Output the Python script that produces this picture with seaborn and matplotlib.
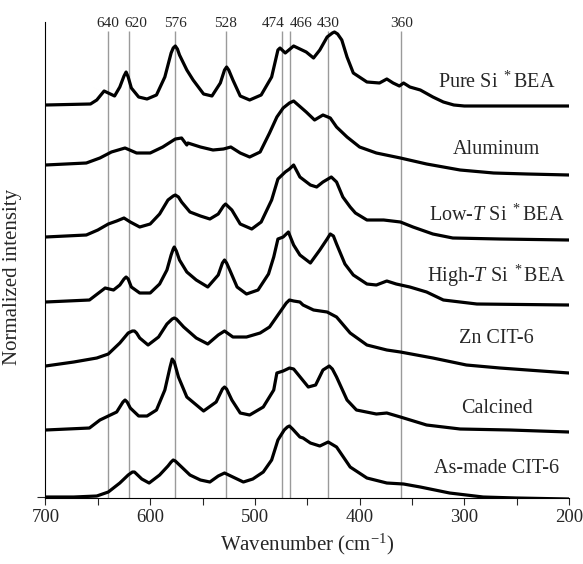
import matplotlib
matplotlib.use("Agg")
import matplotlib.pyplot as plt
from matplotlib.ticker import MultipleLocator
import seaborn as sns
import pandas as pd

pure_wn = [700, 657, 651, 644, 640, 634, 629, 625, 623, 621, 618, 611, 603, 594, 586, 580, 578, 576,
           574, 572, 565, 559, 549, 541, 533, 529, 527, 525, 521, 514, 505, 494, 484, 478, 476, 471,
           463, 451, 444, 438, 431, 426, 424, 421, 417, 412, 406, 393, 381, 374, 368, 362, 358, 352,
           342, 330, 320, 310, 300, 200]
pure_i = [0, 1, 5, 14, 12, 9, 18, 29, 33, 28, 17, 8, 6, 10, 28, 52, 57, 59,
          56, 50, 35, 25, 11, 9, 22, 35, 38, 35, 25, 9, 5, 10, 28, 55, 57, 52,
          59, 53, 47, 55, 68, 72, 73, 71, 65, 48, 32, 23, 22, 26, 22, 19, 22, 18,
          15, 8, 3, 0, -1, -1]

alu_wn = [700, 661, 648, 637, 624, 613, 600, 588, 576, 570, 565, 564, 552, 540, 530, 523, 514, 505,
          495, 486, 479, 473, 467, 463, 451, 443, 435, 428, 422, 412, 400, 384, 361, 336, 304, 272,
          240, 200]
alu_i = [0, 2, 7, 13, 17, 12, 12, 18, 26, 27, 20, 22, 18, 15, 16, 18, 12, 8,
         13, 32, 48, 57, 62, 64, 53, 45, 50, 47, 38, 28, 18, 12, 7, 1, -5, -8,
         -9, -10]

lowt_wn = [700, 661, 650, 640, 632, 625, 619, 610, 600, 591, 583, 578, 576, 573, 570, 562, 552, 543,
           535, 530, 528, 526, 522, 514, 503, 494, 484, 478, 471, 467, 463, 457, 447, 441, 435, 427,
           422, 416, 409, 404, 393, 377, 361, 349, 330, 311, 266, 200]
lowt_i = [0, 2, 7, 13, 16, 19, 15, 10, 13, 23, 37, 41, 42, 40, 35, 25, 21, 18,
          23, 31, 33, 31, 27, 13, 8, 15, 37, 58, 65, 68, 72, 60, 52, 50, 55, 60,
          55, 40, 30, 24, 17, 17, 15, 10, 3, -1, -2, -3]

hight_wn = [700, 658, 648, 643, 635, 629, 625, 623, 621, 618, 610, 600, 591, 584, 580, 578, 577, 575,
            572, 565, 556, 545, 535, 531, 529, 527, 524, 517, 508, 497, 487, 482, 478, 473, 468, 463,
            457, 447, 438, 431, 428, 425, 422, 414, 406, 393, 384, 374, 365, 352, 336, 320, 288, 200]
hight_i = [0, 2, 10, 14, 12, 17, 23, 25, 23, 15, 9, 9, 18, 32, 47, 53, 55, 51,
           42, 30, 22, 15, 27, 39, 42, 39, 32, 15, 8, 12, 28, 45, 63, 65, 70, 57,
           47, 39, 52, 63, 68, 66, 58, 38, 27, 18, 17, 21, 18, 15, 10, 2, -2, -3]

zn_wn = [700, 673, 651, 640, 629, 621, 617, 615, 613, 610, 602, 592, 584, 579, 577, 575, 568, 556,
         545, 535, 529, 521, 508, 495, 486, 476, 470, 467, 463, 457, 454, 444, 431, 422, 409, 393,
         374, 361, 330, 298, 266, 200]
zn_i = [-1, 3, 7, 11, 22, 32, 34, 34, 32, 27, 20, 28, 41, 46, 47, 46, 38, 27,
        21, 30, 34, 28, 28, 32, 38, 53, 62, 65, 64, 63, 60, 55, 53, 48, 32, 20,
        15, 13, 7, 0, -3, -8]

calc_wn = [700, 658, 648, 640, 632, 626, 624, 622, 619, 611, 603, 594, 586, 581, 579, 577, 573, 565,
           549, 537, 531, 529, 527, 522, 514, 505, 492, 482, 479, 473, 467, 463, 449, 442, 435, 429,
           426, 422, 412, 403, 384, 374, 361, 336, 304, 256, 200]
calc_i = [0, 2, 10, 14, 18, 28, 30, 28, 22, 14, 14, 20, 40, 63, 71, 68, 53, 33,
          19, 28, 41, 43, 41, 30, 17, 15, 23, 40, 57, 59, 62, 61, 43, 45, 60, 64,
          61, 53, 30, 20, 16, 17, 13, 5, 1, 0, -2]

asmade_wn = [700, 673, 651, 640, 629, 621, 617, 615, 613, 608, 601, 591, 583, 580, 578, 576, 572, 562,
             552, 543, 535, 529, 521, 511, 502, 492, 484, 478, 472, 469, 467, 464, 457, 454, 447, 438,
             430, 422, 409, 393, 374, 358, 342, 314, 282, 250, 200]
asmade_i = [0, 0, 1, 5, 14, 22, 25, 25, 23, 18, 14, 22, 31, 35, 37, 36, 32, 22,
            17, 15, 21, 24, 20, 15, 18, 25, 37, 57, 67, 70, 71, 68, 60, 59, 54, 51,
            55, 50, 30, 19, 14, 13, 10, 4, 0, -1, -2]

sample_names = ["Pure Si $^*$BEA", "Aluminum", "Low-$T$ Si $^*$BEA", "High-$T$ Si $^*$BEA",
                "Zn CIT-6", "Calcined", "As-made CIT-6"]
offsets = [392, 332, 260, 195, 132, 67, 0]
peak_positions = [640, 620, 576, 528, 474, 466, 430, 360]

spectra = [(pure_wn, pure_i), (alu_wn, alu_i), (lowt_wn, lowt_i), (hight_wn, hight_i),
           (zn_wn, zn_i), (calc_wn, calc_i), (asmade_wn, asmade_i)]

rows = []
for name, off, (wn, inten) in zip(sample_names, offsets, spectra):
    for w, v in zip(wn, inten):
        rows.append({"Sample": name, "Wavenumber": w, "Intensity": v + off})
df = pd.DataFrame(rows)

sns.set_style("ticks")
plt.rcParams['font.family'] = ['Liberation Serif', 'DejaVu Serif']
plt.rcParams['mathtext.fontset'] = 'custom'
plt.rcParams['mathtext.rm'] = 'Liberation Serif'
plt.rcParams['mathtext.it'] = 'Liberation Serif:italic'

fig = plt.figure(figsize=(5.83, 5.64), dpi=100)
ax = fig.add_axes([0.078, 0.117, 0.898, 0.844])

ax.vlines(peak_positions, -1, 466, color='#9a9a9a', lw=1.0, zorder=1)
nudge = {620: 5, 474: -6.5, 466: 8}
for p in peak_positions:
    ax.annotate(str(p), xy=(p, 466), xytext=(nudge.get(p, 0), 3), textcoords='offset points',
                ha='center', va='baseline', fontsize=11, annotation_clip=False)

for name in sample_names:
    sub = df[df['Sample'] == name]
    sns.lineplot(data=sub, x='Wavenumber', y='Intensity', ax=ax, color='black', lw=2.3,
                 sort=False, estimator=None, zorder=3, solid_joinstyle='round',
                 solid_capstyle='round')

label_dy = [23, 16, 22, 26, 27, 22, 29]
for name, off, dy in zip(sample_names, offsets, label_dy):
    ax.text(269, off + dy, name, ha='center', va='center', fontsize=14.5)

ax.set_xlim(700, 200)
ax.set_ylim(-1, 475)
ax.set_xticks([700, 600, 500, 400, 300, 200])
ax.xaxis.set_minor_locator(MultipleLocator(50))
ax.set_yticks([0])
ax.set_yticklabels([])
ax.tick_params(axis='x', which='both', direction='out', length=5, width=0.8, labelsize=13.5, pad=3)
ax.tick_params(axis='y', direction='out', length=6, width=0.8)
sns.despine(ax=ax)
for s in ['left', 'bottom']:
    ax.spines[s].set_linewidth(0.8)
    ax.spines[s].set_color('black')

ax.set_xlabel("Wavenumber (cm$^{-1}$)", fontsize=15, labelpad=4)
ax.set_ylabel("Normalized intensity", fontsize=15)
ax.yaxis.set_label_coords(-0.045, 0.464)

fig.savefig("out.png", dpi=100)
